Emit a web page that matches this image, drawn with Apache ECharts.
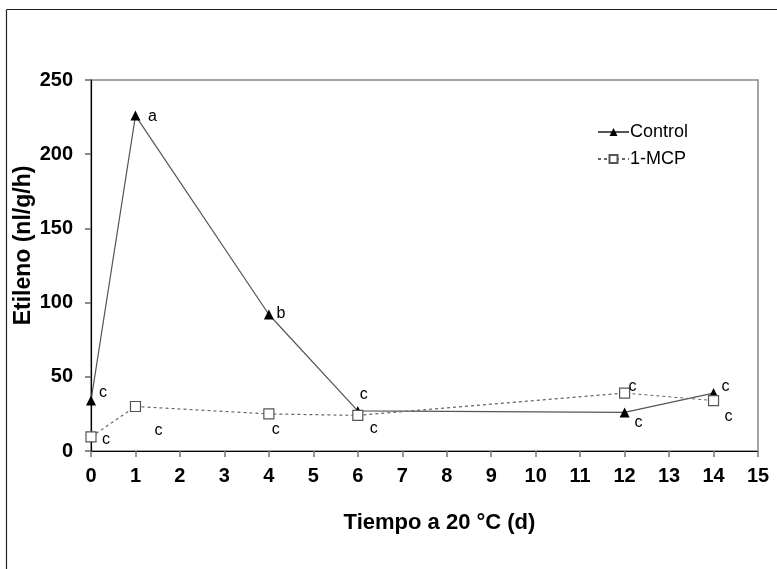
<!DOCTYPE html>
<html>
<head>
<meta charset="utf-8">
<script src="https://cdn.jsdelivr.net/npm/echarts@6/dist/echarts.min.js"></script>
<style>
  html, body { margin: 0; padding: 0; background: #fff; }
  #chart { width: 777px; height: 569px; }
</style>
</head>
<body>
<div id="chart"></div>
<script>
// Ethylene production at 20 °C (nl/g/h)
const days = [0, 1, 4, 6, 12, 14];
const controlValues = [34, 226, 92, 27, 26, 39];
const mcpValues = [9.5, 30, 25, 24, 39, 34];
const controlLetters = ['c', 'a', 'b', 'c', 'c', 'c'];
const mcpLetters = ['c', 'c', 'c', 'c', 'c', 'c'];
const xTicks = [0, 15, 1];
const yTicks = [0, 250, 50];

// Letter placement relative to each marker, in pixels
const controlLetterOffsets = [[12, -8], [17, 1], [12, -1], [6, -16], [14, 10], [12, -7]];
const mcpLetterOffsets = [[15, 3], [23, 24], [7, 16], [16, 13], [8, -7], [15, 16]];

const FONT = 'Liberation Sans, Arial, sans-serif';

function withLetters(values, letters, offsets) {
  return values.map((v, i) => ({
    value: [days[i], v],
    label: {
      show: true,
      formatter: letters[i],
      position: 'inside',
      offset: offsets[i],
      align: 'center',
      verticalAlign: 'middle',
      color: '#000',
      fontFamily: FONT,
      fontSize: 16
    }
  }));
}

const chart = echarts.init(document.getElementById('chart'), null, { renderer: 'canvas' });
chart.setOption({
  animation: false,
  backgroundColor: '#fff',
  grid: {
    left: 91, right: 19, top: 80, bottom: 118,
    outerBoundsMode: 'none', containLabel: false,
    show: true, borderColor: '#888', borderWidth: 1.5, backgroundColor: 'transparent'
  },
  graphic: [
    { type: 'line', shape: { x1: 6.5, y1: 9.5, x2: 777, y2: 9.5 }, style: { stroke: '#222', lineWidth: 1.2 } },
    { type: 'line', shape: { x1: 6.5, y1: 9.5, x2: 6.5, y2: 569 }, style: { stroke: '#222', lineWidth: 1.2 } }
  ],
  legend: {
    left: 592, top: 118, orient: 'vertical', itemGap: 9,
    itemWidth: 31, itemHeight: 10,
    textStyle: { fontFamily: FONT, fontSize: 18, color: '#000', padding: [0, 0, 0, -4] },
    data: ['Control', '1-MCP']
  },
  xAxis: {
    type: 'value', min: xTicks[0], max: xTicks[1], interval: xTicks[2],
    name: 'Tiempo a 20 °C (d)', nameLocation: 'middle', nameGap: 61, nameMoveOverlap: false,
    nameTextStyle: { fontFamily: FONT, fontSize: 22, fontWeight: 'bold', color: '#000', padding: [0, 0, 0, 30] },
    axisLine: { show: true, lineStyle: { color: '#000', width: 1.2 } },
    axisTick: { show: true, inside: false, length: 6, lineStyle: { color: '#777', width: 1.5 } },
    axisLabel: { fontFamily: FONT, fontSize: 20, fontWeight: 'bold', color: '#000', margin: 15 },
    splitLine: { show: false }
  },
  yAxis: {
    type: 'value', min: yTicks[0], max: yTicks[1], interval: yTicks[2],
    name: 'Etileno (nl/g/h)', nameLocation: 'middle', nameGap: 56, nameMoveOverlap: false,
    nameTextStyle: { fontFamily: FONT, fontSize: 23, fontWeight: 'bold', color: '#000', padding: [0, 0, 0, 40] },
    axisLine: { show: true, lineStyle: { color: '#000', width: 1.2 } },
    axisTick: { show: true, inside: false, length: 6, lineStyle: { color: '#666', width: 1.5 } },
    axisLabel: { fontFamily: FONT, fontSize: 20, fontWeight: 'bold', color: '#000', margin: 18 },
    splitLine: { show: false }
  },
  series: [
    {
      name: 'Control', type: 'line',
      data: withLetters(controlValues, controlLetters, controlLetterOffsets),
      symbol: 'triangle', symbolSize: 10,
      itemStyle: { color: '#000', borderColor: '#000', borderWidth: 0 },
      lineStyle: { color: '#555', width: 1.2, type: 'solid' },
      z: 3
    },
    {
      name: '1-MCP', type: 'line',
      data: withLetters(mcpValues, mcpLetters, mcpLetterOffsets),
      symbol: 'rect', symbolSize: 10,
      itemStyle: { color: '#fff', borderColor: '#555', borderWidth: 1.2 },
      lineStyle: { color: '#666', width: 1.2, type: [3, 3] },
      z: 4
    }
  ]
});
</script>
</body>
</html>
